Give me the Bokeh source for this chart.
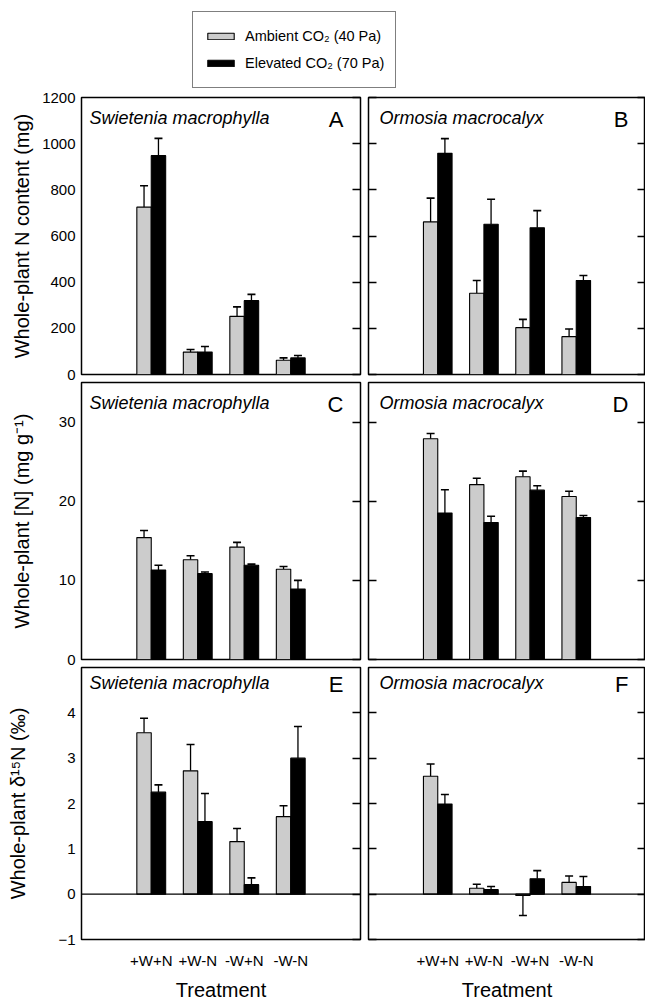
import numpy as np
from bokeh.plotting import figure
from bokeh.models import (ColumnDataSource, FactorRange, Range1d, LinearAxis,
                          FixedTicker, Span, Label, Legend, LegendItem)
from bokeh.transform import dodge
from bokeh.layouts import column, row
from bokeh.embed import file_html
from bokeh.resources import INLINE

# ---------------- data ----------------
treatments = ["+W+N", "+W-N", "-W+N", "-W-N"]

# A: Swietenia, whole-plant N content (mg)
swi_content_amb = [725, 97, 252, 62]
swi_content_amb_se = [93, 11, 41, 10]
swi_content_ele = [948, 97, 320, 72]
swi_content_ele_se = [75, 24, 27, 10]

# B: Ormosia, whole-plant N content (mg)
orm_content_amb = [661, 352, 203, 164]
orm_content_amb_se = [103, 55, 36, 33]
orm_content_ele = [958, 651, 636, 407]
orm_content_ele_se = [64, 108, 74, 22]

# C: Swietenia, whole-plant [N] (mg g-1)
swi_conc_amb = [15.4, 12.6, 14.2, 11.4]
swi_conc_amb_se = [0.9, 0.5, 0.6, 0.35]
swi_conc_ele = [11.3, 10.85, 11.9, 8.9]
swi_conc_ele_se = [0.6, 0.2, 0.15, 1.1]

# D: Ormosia, whole-plant [N] (mg g-1)
orm_conc_amb = [27.9, 22.1, 23.1, 20.6]
orm_conc_amb_se = [0.65, 0.8, 0.7, 0.65]
orm_conc_ele = [18.5, 17.3, 21.4, 17.95]
orm_conc_ele_se = [2.95, 0.8, 0.55, 0.25]

# E: Swietenia, whole-plant d15N (permil)
swi_d15n_amb = [3.56, 2.72, 1.16, 1.71]
swi_d15n_amb_se = [0.32, 0.58, 0.29, 0.24]
swi_d15n_ele = [2.25, 1.60, 0.21, 3.00]
swi_d15n_ele_se = [0.16, 0.62, 0.15, 0.70]

# F: Ormosia, whole-plant d15N (permil)
orm_d15n_amb = [2.60, 0.13, -0.03, 0.26]
orm_d15n_amb_se = [0.27, 0.09, 0.44, 0.14]
orm_d15n_ele = [1.99, 0.10, 0.34, 0.17]
orm_d15n_ele_se = [0.21, 0.07, 0.18, 0.22]

content_ticks = [0, 200, 400, 600, 800, 1000, 1200]
conc_ticks = [0, 10, 20, 30]
d15n_ticks = [-1, 0, 1, 2, 3, 4]

species = ["Swietenia macrophylla", "Ormosia macrocalyx"]
letters = ["A", "B", "C", "D", "E", "F"]
ylabels = ["Whole-plant N content (mg)", "Whole-plant [N] (mg g\u207b\u00b9)",
           "Whole-plant \u03b4\u00b9\u2075N (\u2030)"]
legend_labels = ["Ambient CO\u2082 (40 Pa)", "Elevated CO\u2082 (70 Pa)"]

# ---------------- style ----------------
FONT = "Liberation Sans"
GRAY = "#cccccc"
FRAME_H = 277
LEFT_FRAME_W = 279
RIGHT_FRAME_W = 277
BAR_W = 0.31


def tips(vals, errs):
    return [v + e if v >= 0 else v - e for v, e in zip(vals, errs)]


def hide_labels(ax):
    ax.major_label_text_color = None
    ax.major_label_text_font_size = "0px"
    ax.major_label_standoff = 0


def make_panel(col, rowi, amb, amb_se, ele, ele_se, yr, ticks, ylabel_standoff):
    left = col == 0
    bottom = rowi == 2
    tops = {0: 9, 1: 1, 2: 1}
    bots = {0: 7, 1: 7, 2: 59}
    mbl = 81 if left else 6
    mbr = 2 if left else 0
    fw = LEFT_FRAME_W if left else RIGHT_FRAME_W
    p = figure(
        x_range=FactorRange(factors=treatments, range_padding=1.0,
                            range_padding_units="absolute"),
        y_range=Range1d(*yr),
        width=mbl + fw + mbr, height=tops[rowi] + FRAME_H + bots[rowi],
        min_border_left=mbl, min_border_right=mbr,
        min_border_top=tops[rowi], min_border_bottom=bots[rowi],
        toolbar_location=None, output_backend="svg",
        x_axis_location="below" if bottom else None,
    )
    p.grid.visible = False
    p.outline_line_color = "black"
    p.outline_line_width = 1.5
    p.background_fill_color = "white"
    p.border_fill_color = "white"

    src = ColumnDataSource(dict(
        t=treatments, amb=amb, ele=ele,
        amb_tip=tips(amb, amb_se), ele_tip=tips(ele, ele_se),
    ))
    xa = dodge("t", -BAR_W / 2, range=p.x_range)
    xe = dodge("t", BAR_W / 2, range=p.x_range)

    if yr[0] < 0:
        p.add_layout(Span(location=0, dimension="width", line_color="black",
                          line_width=1.2))

    for xx, key, color in [(xa, "amb", GRAY), (xe, "ele", "black")]:
        p.segment(x0=xx, y0=key, x1=xx, y1=key + "_tip", source=src,
                  line_color="black", line_width=1.3)
        p.scatter(x=xx, y=key + "_tip", source=src, marker="dash", size=8,
                  line_color="black", line_width=1.6)
        p.vbar(x=xx, top=key, bottom=0, width=BAR_W, source=src,
               fill_color=color, line_color="black", line_width=1.1)

    # y axes
    yax = p.yaxis[0]
    yax.ticker = FixedTicker(ticks=ticks)
    yax.minor_tick_line_color = None
    yax.axis_line_color = None
    if left:
        yax.major_tick_in = 0
        yax.major_tick_out = 0
        yax.major_label_standoff = 6
        yax.major_label_text_font = FONT
        yax.major_label_text_font_size = "15px"
        yax.major_label_text_color = "black"
        yax.axis_label = ylabels[rowi]
        yax.axis_label_text_font = FONT
        yax.axis_label_text_font_size = "20px"
        yax.axis_label_text_font_style = "normal"
        yax.axis_label_text_color = "black"
        yax.axis_label_standoff = ylabel_standoff
    else:
        yax.major_tick_in = 8
        yax.major_tick_out = 0
        yax.major_tick_line_width = 1.3
        yax.major_tick_line_color = "black"
        hide_labels(yax)

    rax = LinearAxis(ticker=FixedTicker(ticks=ticks), major_tick_in=8,
                     major_tick_out=0, major_tick_line_width=1.3,
                     major_tick_line_color="black", minor_tick_line_color=None,
                     axis_line_color=None)
    hide_labels(rax)
    p.add_layout(rax, "right")

    if bottom:
        xax = p.xaxis[0]
        xax.major_tick_in = 0
        xax.major_tick_out = 0
        xax.axis_line_color = None
        xax.major_label_standoff = 12
        xax.major_label_text_font = FONT
        xax.major_label_text_font_size = "15px"
        xax.major_label_text_color = "black"
        xax.axis_label = "Treatment"
        xax.axis_label_text_font = FONT
        xax.axis_label_text_font_size = "20px"
        xax.axis_label_text_font_style = "normal"
        xax.axis_label_text_color = "black"
        xax.axis_label_standoff = 7

    p.add_layout(Label(x=8 if left else 11, y=FRAME_H - 20, x_units="screen",
                       y_units="screen", text=species[col], text_font=FONT,
                       text_font_size="18px", text_font_style="italic",
                       text_baseline="middle", text_color="black"))
    p.add_layout(Label(x=fw - 17, y=FRAME_H - 22, x_units="screen",
                       y_units="screen", text=letters[rowi * 2 + col],
                       text_font=FONT, text_font_size="22px",
                       text_align="right", text_baseline="middle",
                       text_color="black"))
    return p


pA = make_panel(0, 0, swi_content_amb, swi_content_amb_se, swi_content_ele,
                swi_content_ele_se, (0, 1200), content_ticks, 6)
pB = make_panel(1, 0, orm_content_amb, orm_content_amb_se, orm_content_ele,
                orm_content_ele_se, (0, 1200), content_ticks, 6)
pC = make_panel(0, 1, swi_conc_amb, swi_conc_amb_se, swi_conc_ele,
                swi_conc_ele_se, (0, 35), conc_ticks, 23)
pD = make_panel(1, 1, orm_conc_amb, orm_conc_amb_se, orm_conc_ele,
                orm_conc_ele_se, (0, 35), conc_ticks, 23)
pE = make_panel(0, 2, swi_d15n_amb, swi_d15n_amb_se, swi_d15n_ele,
                swi_d15n_ele_se, (-1, 5), d15n_ticks, 26)
pF = make_panel(1, 2, orm_d15n_amb, orm_d15n_amb_se, orm_d15n_ele,
                orm_d15n_ele_se, (-1, 5), d15n_ticks, 26)

# ---------------- legend figure ----------------
lf = figure(width=645, height=88, x_range=Range1d(0, 1), y_range=Range1d(0, 1),
            min_border_left=0, min_border_right=0, min_border_top=0,
            min_border_bottom=0, toolbar_location=None, output_backend="svg",
            x_axis_location=None, y_axis_location=None)
lf.grid.visible = False
lf.outline_line_color = None
lf.border_fill_color = "white"
# legend-only renderers: a single missing (NaN) row, so no bar is plotted
leg_src = ColumnDataSource(dict(x=[np.nan], top=[np.nan]))
r_amb = lf.vbar(x="x", top="top", width=0.1, source=leg_src,
                fill_color=GRAY, line_color="black", line_width=1.1)
r_ele = lf.vbar(x="x", top="top", width=0.1, source=leg_src,
                fill_color="black", line_color="black", line_width=1.1)
leg = Legend(items=[LegendItem(label=legend_labels[0], renderers=[r_amb]),
                    LegendItem(label=legend_labels[1], renderers=[r_ele])],
             location=(192, 0), padding=11, spacing=1, margin=0,
             label_height=26, glyph_height=8, glyph_width=33,
             label_standoff=8, label_text_font=FONT,
             label_text_font_size="14.5px", label_text_color="black",
             border_line_color="black", border_line_width=1.5,
             background_fill_color="white")
lf.add_layout(leg, "center")

layout = column(lf, row(pA, pB), row(pC, pD), row(pE, pF))
open("out.html", "w").write(file_html(layout, INLINE))
